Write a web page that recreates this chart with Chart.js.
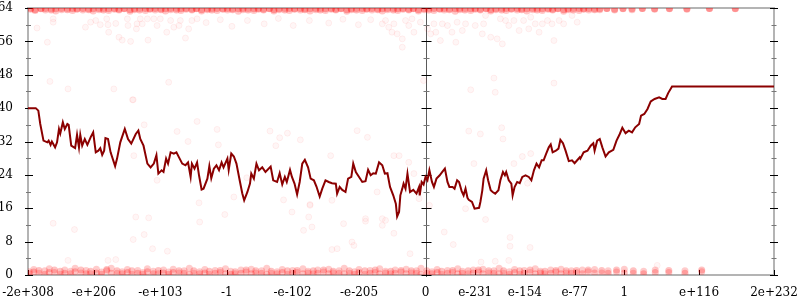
<!DOCTYPE html>
<html>
<head>
<meta charset="utf-8">
<script src="https://cdn.jsdelivr.net/npm/chart.js@4.4.1/dist/chart.umd.min.js"></script>
<style>
  html, body { margin: 0; padding: 0; background: #fff; }
  #wrap { width: 800px; height: 300px; }
</style>
</head>
<body>
<div id="wrap"><canvas id="chart" width="800" height="300"></canvas></div>
<script>
// x positions are in "order of magnitude" units: -2e+308 -> -616, -1 -> -308, 0 -> 0, 1 -> 308, 2e+232 -> 540
const tickU = [-616, -514, -411, -308, -206, -103, 0, 77, 154, 231, 308, 424, 540];
const tickLabels = ['-2e+308', '-e+206', '-e+103', '-1', '-e-102', '-e-205', '0',
                    'e-231', 'e-154', 'e-77', '1', 'e+116', '2e+232'];
const yTicks = [0, 8, 16, 24, 32, 40, 48, 56, 64];

const lineU = [
  -616,-604,-600,-597,-592,-586,-584,-581,-579,-574,
  -571,-568,-566,-562,-559,-555,-553,-549,-543,-540,
  -537,-535,-532,-528,-524,-519,-515,-511,-507,-504,
  -501,-498,-496,-492,-488,-481,-478,-473,-466,-461,
  -456,-449,-445,-442,-437,-431,-426,-421,-417,-414,
  -409,-406,-402,-399,-395,-390,-386,-382,-377,-372,
  -368,-364,-362,-358,-354,-351,-347,-344,-338,-335,
  -332,-328,-324,-320,-316,-313,-307,-305,-301,-297,
  -293,-288,-284,-281,-276,-272,-270,-266,-262,-258,
  -253,-248,-240,-236,-230,-226,-222,-218,-215,-210,
  -207,-203,-199,-195,-191,-187,-182,-178,-173,-169,
  -164,-160,-155,-150,-145,-139,-137,-133,-129,-124,
  -120,-115,-112,-108,-103,-98,-93,-89,-85,-81,
  -77,-72,-67,-63,-59,-55,-50,-46,-44,-41,
  -39,-36,-34,-31,-28,-24,-19,-14,-10,-9,
  -6,-3,0,3,6,10,13,17,22,26,
  30,34,37,42,45,49,52,56,59,62,
  65,67,72,76,83,85,88,90,94,97,
  101,104,108,113,116,120,123,125,129,133,
  135,138,142,146,150,155,160,164,168,172,
  176,180,183,187,191,194,197,202,206,209,
  213,217,222,227,231,235,239,240,245,251,
  256,260,262,266,270,274,279,284,291,296,
  301,305,310,315,320,325,331,334,339,344,
  349,355,362,367,372,376,382,540
];
const lineY = [
  40,40,39.4,36.2,32.2,31.8,32.2,31.2,32.0,30.6,
  31.8,35.0,33.9,36.6,35.0,36.2,36.0,31.0,30.4,33.6,
  30.6,33.6,31.0,32.6,31.2,33.0,34.2,29.4,29.8,30.4,
  28.8,29.8,32.8,32.6,29.4,26.1,27.9,31.8,35.0,32.6,
  31.5,33.8,34.6,32.6,31.0,26.7,25.8,26.7,28.7,24.3,
  25.1,24.7,27.9,26.7,29.4,29.1,29.4,28.2,26.7,26.3,
  27.0,23.5,26.7,25.5,27.0,23.9,20.5,20.7,23.1,26.1,
  23.2,25.5,26.3,25.1,27.0,25.8,27.9,25.2,29.1,28.4,
  26.7,22.7,19.6,17.9,19.9,21.9,24.3,23.1,26.7,25.1,
  25.8,24.7,26.0,22.7,22.3,24.4,21.7,23.5,22.3,25.2,
  23.5,21.9,19.3,22.3,26.7,27.6,25.8,23.1,22.7,21.2,
  18.8,20.7,22.7,22.3,22.0,21.9,19.5,21.1,20.4,19.9,
  23.1,23.5,26.7,24.7,23.5,22.3,22.5,25.2,23.9,24.4,
  24.3,27.0,26.3,24.3,24.4,21.1,19.1,17.1,14.0,15.1,
  19.1,20.7,21.9,20.7,24.3,19.9,20.4,19.5,21.1,19.1,
  22.3,21.7,23.5,22.7,25.1,22.3,21.1,23.1,23.9,24.7,
  25.5,22.3,21.1,21.1,20.7,22.7,22.3,20.1,19.1,20.7,
  18.5,18.0,17.5,15.9,16.1,17.5,20.3,23.1,25.1,22.7,
  20.3,19.9,19.5,20.3,22.7,24.7,23.9,24.7,22.7,21.9,
  19.1,21.1,22.3,22.0,23.5,23.9,23.5,22.7,25.1,26.7,
  25.8,27.5,27.5,29.1,30.6,31.3,29.4,29.8,30.3,32.4,
  31.6,29.8,27.3,27.5,26.8,27.5,28.2,27.9,29.4,29.8,
  31.0,31.6,29.8,32.2,32.6,30.6,28.4,29.4,30.0,32.2,
  33.8,35.3,34.0,34.6,34.2,35.4,36.2,38.2,38.6,39.8,
  41.6,42.2,42.6,42.2,42.2,43.6,45.2,45.2
];

// dense band of samples along the bottom edge
const bandLowU = [
  -614,-607,-599,-590,-583,-575,-566,-559,-550,-543,
  -534,-526,-519,-510,-502,-494,-487,-478,-470,-462,
  -455,-446,-438,-431,-422,-414,-406,-398,-391,-382,
  -374,-366,-359,-350,-342,-335,-326,-318,-310,-302,
  -295,-286,-278,-270,-263,-254,-246,-239,-230,-222,
  -214,-206,-199,-190,-182,-174,-167,-158,-150,-143,
  -134,-126,-118,-110,-103,-94,-86,-78,-71,-62,
  -54,-47,-38,-30,-22,-14,-7,2,10,18,
  25,34,42,50,57,66,74,82,89,98,
  106,114,121,130,138,146,153,162,170,178,
  185,194,202,210,218,226,234,243,252,262,
  273,283,296,308,322,338,356,377,402,428
];
const bandLowY = [
  0.8,1.3,0.4,1.0,1.5,0.6,0.2,1.2,0.9,1.6,
  0.5,1.1,0.3,1.4,0.7,1.0,1.6,0.4,0.8,1.3,
  0.2,1.1,0.6,1.5,0.9,0.3,1.2,0.7,1.4,0.5,
  1.0,1.6,0.4,0.8,1.3,0.2,1.1,0.6,1.5,0.9,
  0.3,1.2,0.7,1.4,0.5,1.0,1.6,0.4,0.8,1.3,
  0.2,1.1,0.6,1.5,0.9,0.3,1.2,0.7,1.4,0.5,
  1.0,1.6,0.4,0.8,1.3,0.2,1.1,0.6,1.5,0.9,
  0.3,1.2,0.7,1.4,0.5,1.0,1.6,0.4,0.8,1.3,
  0.2,1.1,0.6,1.5,0.9,0.3,1.2,0.7,1.4,0.5,
  1.0,1.6,0.4,0.8,1.3,0.2,1.1,0.6,1.5,0.9,
  0.3,1.2,0.7,1.4,0.5,1.0,0.6,1.2,0.8,1.3,
  0.5,1.0,0.7,1.4,0.4,0.9,1.2,0.6,1.0,0.8
];
// second pass over the bottom band (same columns, other heights)
const bandLowY2 = [
  0.3,0.7,1.1,0.2,0.6,1.2,0.9,0.4,0.3,0.8,
  1.2,0.3,0.9,0.5,0.2,1.3,0.4,1.0,0.3,0.6,
  1.0,0.4,0.2,0.8,0.3,1.1,0.5,0.2,0.6,1.0,
  0.4,0.2,1.0,0.3,0.5,0.9,0.4,1.1,0.3,0.2,
  0.8,0.4,1.2,0.3,1.0,0.4,0.2,0.9,0.3,0.6,
  1.0,0.4,1.1,0.3,0.5,1.0,0.4,1.2,0.3,0.9,
  0.4,0.3,1.0,0.2,0.6,1.0,0.4,1.2,0.3,0.5,
  0.9,0.4,1.1,0.3,1.0,0.4,0.2,1.0,0.3,0.6,
  0.9,0.4,1.1,0.3,0.4,1.0,0.5,1.2,0.3,1.0,
  0.4,0.3,1.0,0.2,0.6,1.0,0.4,1.2,0.3,0.5,
  0.9,0.4,1.1,0.3,1.0,0.4,1.1,0.3,1.2,0.5,
  1.1,0.4,1.2,0.5,1.0,0.3,0.6,1.1,0.4,1.2
];

// dense band of samples along the top edge
const bandHighU = [
  -612,-605,-596,-589,-580,-573,-564,-555,-547,-540,
  -531,-522,-515,-506,-499,-491,-482,-475,-467,-458,
  -451,-443,-434,-427,-419,-410,-403,-395,-386,-379,
  -371,-362,-355,-347,-338,-331,-323,-314,-307,-299,
  -290,-283,-275,-266,-259,-251,-242,-235,-227,-218,
  -211,-203,-194,-187,-179,-170,-163,-155,-146,-139,
  -131,-122,-115,-107,-98,-91,-83,-74,-67,-59,
  -50,-43,-35,-26,-19,-11,-2,5,13,22,
  29,37,46,53,61,70,77,85,94,101,
  109,118,125,133,142,149,157,166,173,181,
  190,197,205,214,221,229,238,245,253,262,
  270,281,293,306,320,336,355,378,405,440,
  480
];
const bandHighY = [
  63.7,63.4,63.9,63.5,63.8,63.3,63.6,63.9,63.4,63.7,
  63.5,63.8,63.3,63.6,63.9,63.4,63.7,63.5,63.8,63.2,
  63.6,63.9,63.4,63.7,63.5,63.8,63.3,63.6,63.9,63.4,
  63.7,63.5,63.8,63.3,63.6,63.9,63.4,63.7,63.5,63.8,
  63.2,63.6,63.9,63.4,63.7,63.5,63.8,63.3,63.6,63.9,
  63.4,63.7,63.5,63.8,63.3,63.6,63.9,63.4,63.7,63.5,
  63.8,63.2,63.6,63.9,63.4,63.7,63.5,63.8,63.3,63.6,
  63.9,63.4,63.7,63.5,63.8,63.3,63.6,63.9,63.4,63.7,
  63.5,63.8,63.2,63.6,63.9,63.4,63.7,63.5,63.8,63.3,
  63.6,63.9,63.4,63.7,63.5,63.8,63.3,63.6,63.9,63.4,
  63.7,63.5,63.8,63.2,63.6,63.9,63.4,63.7,63.5,63.8,
  63.6,63.9,63.5,63.8,63.6,63.9,63.7,63.8,63.7,63.9,
  63.8
];
const bandHighY2 = [
  63.9,63.6,63.8,63.9,63.5,63.8,63.9,63.6,63.9,63.8,
  63.9,63.6,63.8,63.9,63.5,63.8,63.9,63.7,63.9,63.6,
  63.8,63.5,63.9,63.8,63.9,63.6,63.8,63.9,63.5,63.8,
  63.9,63.7,63.9,63.6,63.8,63.5,63.9,63.8,63.9,63.6,
  63.8,63.9,63.5,63.8,63.9,63.7,63.9,63.6,63.8,63.5,
  63.9,63.8,63.9,63.6,63.8,63.9,63.5,63.8,63.9,63.7,
  63.9,63.6,63.8,63.5,63.9,63.8,63.9,63.6,63.8,63.9,
  63.5,63.8,63.9,63.7,63.9,63.6,63.8,63.5,63.9,63.8,
  63.9,63.6,63.8,63.9,63.5,63.8,63.9,63.7,63.9,63.6,
  63.8,63.5,63.9,63.8,63.9,63.6,63.8,63.9,63.5,63.8,
  63.9,63.7,63.9,63.6,63.8,63.5,63.9,63.8,63.9,63.6,
  63.8,63.9,63.7,63.9,63.8,63.9,63.8,63.9,63.8,63.9,
  63.9
];

// isolated faint samples
const looseU = [
  -602,-577,-577,-586,-582,-554,-527,-519,-511,-504,-494,-492,-491,-483,-480,-475,-470,-462,-461,-457,
  -453,-447,-448,-442,-439,-430,-431,-421,-416,-411,-401,-398,-395,-390,-382,-380,-372,-367,-362,-354,
  -340,-318,-300,-276,-250,-228,-205,-180,-150,-128,-104,-85,
  -67,-62,-57,-52,-49,-44,-36,-36,-31,-26,-21,-18,-8,-3,3,8,13,16,23,26,
  34,41,47,49,57,62,70,77,88,90,93,101,106,108,111,116,119,124,129,137,
  145,152,160,163,170,176,181,189,196,199,199,207,214,227,235,
  -577,-544,-554,-492,-480,-449,-429,-436,-453,-423,-400,-350,
  -179,-189,-176,-127,-93,-67,-49,-62,-114,-111,-145,-137,-24,29,43,86,108,131,131,162,129,
  -454,-436,-354,-323,-385,-368,-321,-452,-416,-351,-311,
  -241,-226,-214,-194,-232,-147,-49,-41,-26,-18,-297,-277,-220,-207,-179,-181,-145,-90,-106,-75,-93,-67,
  67,85,118,120,150,163,137,75,158,62,93,6,-10,359
];
const looseY = [
  59.2,61.4,60.6,55.8,46.4,44.6,59.4,60.6,61.0,60.0,61.4,60.0,58.2,44.6,60.3,57.0,56.3,61.4,59.8,56.0,
  42.0,60.2,59.0,61.4,60.2,56.3,61.4,61.4,59.8,61.4,58.2,46.2,61.0,59.4,59.8,61.0,56.8,59.0,61.0,61.4,
  60.5,61.2,59.6,61.0,60.2,61.5,59.8,61.0,60.4,61.3,60.0,61.2,
  60.2,61.0,59.4,58.2,60.2,57.8,54.6,56.6,61.0,59.8,61.4,58.2,60.6,46.6,59.0,57.8,60.2,58.2,56.2,60.2,
  59.8,58.2,55.8,60.6,58.6,60.2,44.4,59.8,57.8,60.2,62.2,57.0,47.2,43.8,56.6,61.4,55.4,61.0,59.8,61.0,
  58.6,61.0,59.0,61.8,60.2,58.2,60.2,61.0,60.2,56.2,46.0,61.0,60.2,62.2,60.6,
  12.4,10.9,3.5,3.5,3.7,13.9,13.7,9.7,8.5,6.3,5.7,12.7,
  16.7,10.7,11.5,12.3,12.9,11.9,10.0,13.1,7.9,7.1,6.1,6.3,5.1,10.3,7.3,3.1,3.3,9.0,6.9,6.6,3.5,
  42.0,36.0,36.8,34.9,34.4,32.0,31.2,28.6,22.7,17.3,14.5,
  34.5,32.9,34.0,32.4,31.0,28.6,28.6,28.6,27.0,24.3,18.7,23.3,18.0,15.1,16.9,13.9,17.9,33.0,34.6,19.9,13.5,13.5,
  34.5,33.8,35.3,32.6,28.4,29.1,26.7,26.7,22.0,15.9,13.3,16.7,18.3,2.3
];

const toPoints = (us, ys) => us.map((u, i) => ({ x: u, y: ys[i] }));

// axis frame, middle axis and inward tick marks
const axisFrame = {
  id: 'axisFrame',
  beforeDatasetsDraw(chart) {
    const { ctx, chartArea: a, scales: { x, y } } = chart;
    const seg = (x1, y1, x2, y2) => {
      ctx.beginPath(); ctx.moveTo(x1, y1); ctx.lineTo(x2, y2); ctx.stroke();
    };
    ctx.save();
    ctx.strokeStyle = '#b4b4b4';
    ctx.lineWidth = 2;
    ctx.strokeRect(a.left, a.top, a.right - a.left, a.bottom - a.top);

    const x0 = Math.round(x.getPixelForValue(0)) + 0.5;
    ctx.strokeStyle = '#5a5a5a';
    ctx.lineWidth = 1;
    seg(x0, a.top, x0, a.bottom + 2);

    for (let v = 0; v <= 64; v += 4) {
      const py = Math.round(y.getPixelForValue(v)) + 0.5;
      const major = v % 8 === 0;
      ctx.strokeStyle = major ? '#000' : '#777';
      if (major) {
        seg(a.left - 3, py, a.left + 5, py);
        seg(x0 - 5, py, x0 + 5, py);
        seg(a.right - 4, py, a.right + 4, py);
      } else {
        seg(a.left - 2, py, a.left + 3, py);
        seg(x0 - 3, py, x0 + 3, py);
        seg(a.right - 2.5, py, a.right + 2.5, py);
      }
    }

    ctx.strokeStyle = '#000';
    tickU.forEach(u => {
      const px = Math.round(x.getPixelForValue(u)) + 0.5;
      seg(px, a.bottom - 5, px, a.bottom);
    });
    ctx.restore();
  }
};

// keep the plot box where the reference has it: no extra room for edge labels
const noEdgePadding = s => {
  s.paddingLeft = 0; s.paddingRight = 0; s.paddingTop = 0; s.paddingBottom = 0;
};

Chart.defaults.font.family = "'DejaVu Serif', serif";
Chart.defaults.font.size = 12;
Chart.defaults.color = '#000';

const bandStyle = alpha => ({
  pointRadius: 3.5,
  backgroundColor: `rgba(255, 0, 0, ${alpha})`,
  borderWidth: 0
});

new Chart(document.getElementById('chart'), {
  type: 'scatter',
  data: {
    datasets: [
      {
        data: toPoints(lineU, lineY),
        showLine: true,
        borderColor: '#8b0000',
        borderWidth: 2,
        pointRadius: 0,
        tension: 0
      },
      {
        data: toPoints(looseU, looseY),
        pointRadius: 3,
        backgroundColor: 'rgba(255, 0, 0, 0.035)',
        borderColor: 'rgba(255, 0, 0, 0.06)',
        borderWidth: 1
      },
      Object.assign({ data: toPoints(bandHighU, bandHighY) }, bandStyle(0.22)),
      Object.assign({ data: toPoints(bandHighU, bandHighY2) }, bandStyle(0.28)),
      Object.assign({ data: toPoints(bandLowU, bandLowY) }, bandStyle(0.2)),
      Object.assign({ data: toPoints(bandLowU, bandLowY2) }, bandStyle(0.24))
    ]
  },
  options: {
    responsive: false,
    animation: false,
    devicePixelRatio: 1,
    layout: { padding: { top: 8, right: 26, left: 0, bottom: 0 } },
    plugins: { legend: { display: false }, tooltip: { enabled: false } },
    scales: {
      x: {
        type: 'linear',
        min: -616,
        max: 540,
        grid: { display: false },
        border: { display: false },
        afterBuildTicks: s => { s.ticks = tickU.map(v => ({ value: v })); },
        afterFit: s => { s.height = 25; noEdgePadding(s); },
        ticks: {
          autoSkip: false,
          maxRotation: 0,
          padding: 3,
          callback: v => tickLabels[tickU.indexOf(v)]
        }
      },
      y: {
        min: 0,
        max: 64,
        grid: { display: false },
        border: { display: false },
        afterBuildTicks: s => { s.ticks = yTicks.map(v => ({ value: v })); },
        afterFit: s => { s.width = 28; noEdgePadding(s); },
        ticks: { padding: 7 }
      }
    }
  },
  plugins: [axisFrame]
});
</script>
</body>
</html>
